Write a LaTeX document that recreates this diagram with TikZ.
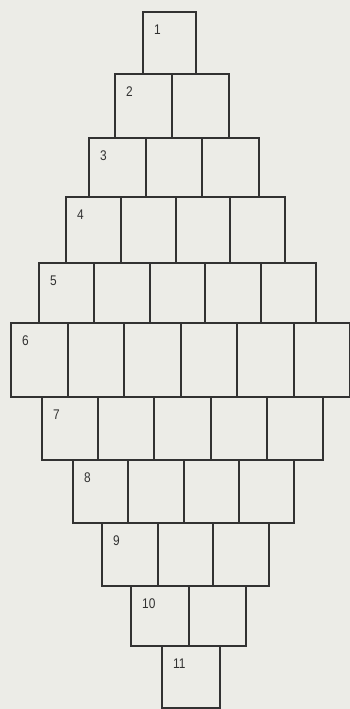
\documentclass[tikz,border=0pt]{standalone}
\usepackage{fontspec}
\setmainfont{Liberation Sans}
\definecolor{paper}{RGB}{236,236,231}
\definecolor{ink}{RGB}{50,50,50}
\tikzset{
  cell/.style={draw=ink, line width=1.6pt, rectangle, inner sep=0pt, outer sep=0pt, anchor=north west},
  numlab/.style={text=ink, inner sep=0pt, anchor=west, font=\fontsize{14}{14}\selectfont}
}
\begin{document}
\begin{tikzpicture}[x=1pt,y=-1pt]
\useasboundingbox (0,0) rectangle (350,709);
\fill[paper] (0,0) rectangle (350,709);
\foreach \r/\x/\w/\n/\yt/\yb in {
  1/143/53/1/12/74,
  2/115/57/2/74/138,
  3/89/56.7/3/138/197,
  4/66/54.8/4/197/263,
  5/39/55.4/5/263/323,
  6/11/56.5/6/323/397,
  7/42/56.2/5/397/460,
  8/73/55.3/4/460/523,
  9/102/55.7/3/523/586,
  10/131/57.5/2/586/646,
  11/162/58/1/646/708}{
  \pgfmathsetmacro\h{\yb-\yt}
  \foreach \i in {1,...,\n}{
    \pgfmathsetmacro\xl{round(\x+(\i-1)*\w)}
    \pgfmathsetmacro\xr{round(\x+\i*\w)}
    \pgfmathsetmacro\cw{\xr-\xl}
    \node[cell, minimum width=\cw pt, minimum height=\h pt] (c\r-\i) at (\xl,\yt) {};
  }
  \node[numlab, xscale=0.85] (l\r) at ([xshift=11pt,yshift=-18pt]c\r-1.north west) {\r};
}
\end{tikzpicture}
\end{document}
